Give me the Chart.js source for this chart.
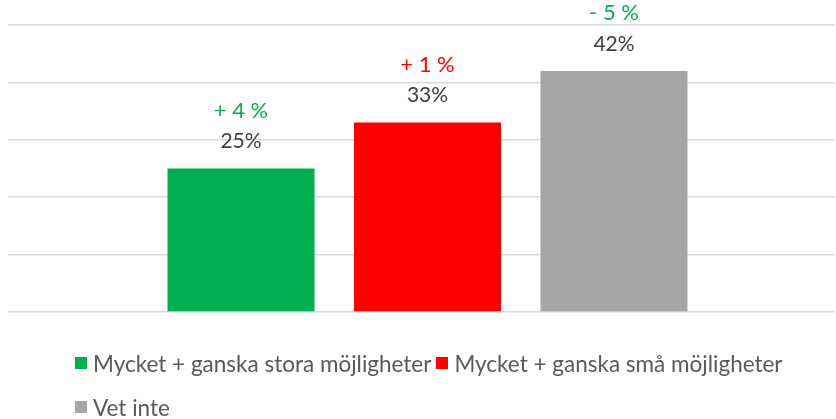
<!DOCTYPE html>
<html>
<head>
<meta charset="utf-8">
<script src="https://cdn.jsdelivr.net/npm/chart.js@4"></script>
<style>
  body { margin: 0; background: #fff; }
  #wrap { position: relative; width: 836px; height: 419px; overflow: hidden; }
  #legend { position: absolute; left: 75px; top: 346px; width: 760px;
            font-family: Lato, sans-serif; font-size: 22.5px; color: #595959; }
  .item { display: inline-flex; align-items: center; margin-right: 5px; height: 34px; }
  .item span.box { width: 12px; height: 12px; margin-right: 6px; display: inline-block; }
  .row2 { margin-top: 10px; }
</style>
</head>
<body>
<div id="wrap">
  <canvas id="chart" width="836" height="419"></canvas>
  <div id="legend"></div>
</div>
<script>
// data
const seriesNames = ['Mycket + ganska stora möjligheter', 'Mycket + ganska små möjligheter', 'Vet inte'];
const seriesValues = [25, 33, 42];
const changeLabels = ['+ 4 %', '+ 1 %', '- 5 %'];
const seriesColors = ['#00B050', '#FF0000', '#A5A5A5'];
const changeColors = ['#00B050', '#FF0000', '#00B050'];

// labels above bars: value and change since last time
const barLabels = {
    id: 'barLabels',
    afterDatasetsDraw(chart) {
        const ctx = chart.ctx;
        ctx.save();
        ctx.textAlign = 'center';
        ctx.textBaseline = 'middle';
        chart.data.datasets.forEach((ds, i) => {
            const bar = chart.getDatasetMeta(i).data[0];
            ctx.font = '21px Lato, sans-serif';
            ctx.fillStyle = '#404040';
            ctx.fillText(ds.data[0] + '%', bar.x, bar.y - 27);
            ctx.font = '22px Lato, sans-serif';
            ctx.fillStyle = changeColors[i];
            ctx.fillText(changeLabels[i], bar.x, bar.y - 58);
        });
        ctx.restore();
    }
};

new Chart(document.getElementById('chart'), {
    type: 'bar',
    data: {
        labels: [''],
        datasets: seriesNames.map((name, i) => ({
            label: name,
            data: [seriesValues[i]],
            backgroundColor: seriesColors[i],
            categoryPercentage: 0.6865,
            barPercentage: 0.788
        }))
    },
    options: {
        responsive: false,
        animation: false,
        layout: { padding: { left: 8, right: 1, top: 25, bottom: 107 } },
        plugins: {
            legend: { display: false },
            tooltip: { enabled: false }
        },
        scales: {
            x: { display: false },
            y: {
                min: 0,
                max: 50,
                ticks: { display: false, stepSize: 10 },
                border: { display: false },
                // tick marks continue the grid lines out to the left edge
                grid: { color: '#D9D9D9', lineWidth: 1.5, drawTicks: true, tickLength: 12 }
            }
        }
    },
    plugins: [barLabels]
});

// legend as html, two rows like the original
const legend = document.getElementById('legend');
seriesNames.forEach((name, i) => {
    const el = document.createElement('div');
    el.className = 'item';
    el.innerHTML = '<span class="box" style="background:' + seriesColors[i] + '"></span>' + name;
    if (i === 2) {
        const row = document.createElement('div');
        row.className = 'row2';
        row.appendChild(el);
        legend.appendChild(row);
    } else {
        legend.appendChild(el);
    }
});
</script>
</body>
</html>
